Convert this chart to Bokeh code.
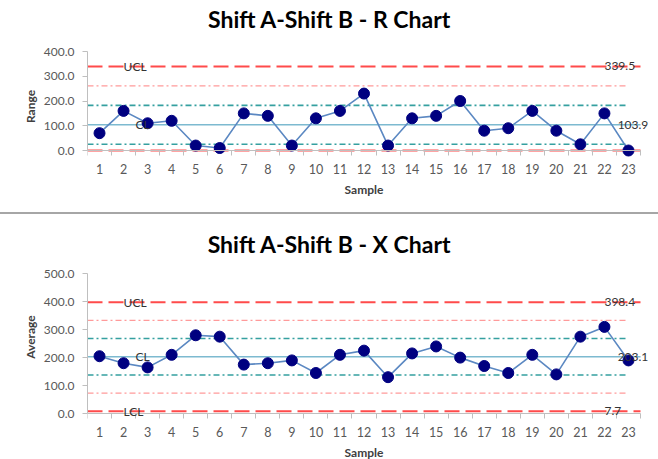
from bokeh.plotting import figure
from bokeh.models import (Range1d, LinearAxis, FixedTicker, NumeralTickFormatter,
                          Label, Div)
from bokeh.layouts import column
from bokeh.embed import file_html
from bokeh.resources import INLINE

# ---------------- data ----------------
samples = list(range(1, 24))

r_values = [70, 160, 110, 120, 20, 10, 150, 140, 20, 130, 160, 230,
            20, 130, 140, 200, 80, 90, 160, 80, 25, 150, 0]
r_ucl = 339.5
r_cl = 103.9
r_lcl = 0.0
r_sigma1 = [25.4, 182.4]
r_sigma2 = [261.0]
r_yticks = [0, 100, 200, 300, 400]

x_values = [205, 180, 165, 210, 280, 275, 175, 180, 190, 145, 210, 225,
            130, 215, 240, 200, 170, 145, 210, 140, 275, 310, 190]
x_ucl = 398.4
x_cl = 203.1
x_lcl = 7.7
x_sigma1 = [138.0, 268.2]
x_sigma2 = [72.9, 333.3]
x_yticks = [0, 100, 200, 300, 400, 500]

FONT = "Lato"
RED = "#FF4B4B"
TEAL = "#35A0A0"
PINK = "#FF9A9A"
CLBLUE = "#7DBAD0"
LINEBLUE = "#5B88C2"
NAVY = "#000080"
AXIS = "#BFBFBF"
TXT = "#595959"

WIDTH = 658
LEFT = 87          # pixel position of the y axis
PLOT_W = 553       # pixel width of the category area
X_PX = PLOT_W / len(samples)


def make_chart(title, ylabel, values, ucl, cl, lcl, sig1, sig2, yticks,
               px_per_unit, height, top_px, title_px, show_lcl_label):
    ymax_axis = yticks[-1]
    zero_px = top_px + ymax_axis * px_per_unit
    ymax = ymax_axis + top_px / px_per_unit
    ymin = -(height - zero_px) / px_per_unit
    xs = samples[0] - 0.5
    xe = samples[-1] + 0.5
    x_end = xs + (WIDTH - LEFT) / X_PX
    p = figure(width=WIDTH, height=height,
               x_range=Range1d(xs, x_end), y_range=Range1d(ymin, ymax),
               x_axis_location=None, output_backend="svg",
               toolbar_location=None, min_border_left=LEFT,
               min_border_right=0, min_border_top=0, min_border_bottom=0)
    p.outline_line_color = None
    p.grid.visible = False

    # y axis
    ya = p.yaxis[0]
    ya.ticker = FixedTicker(ticks=yticks)
    ya.bounds = (yticks[0], yticks[-1])
    ya.formatter = NumeralTickFormatter(format="0.0")
    ya.axis_label = ylabel
    ya.axis_label_text_font = FONT
    ya.axis_label_text_font_style = "bold"
    ya.axis_label_text_font_size = "12px"
    ya.axis_label_text_color = "#404040"
    ya.axis_label_standoff = 3
    ya.major_label_text_font = FONT
    ya.major_label_text_font_size = "12px"
    ya.major_label_text_color = TXT
    ya.major_label_standoff = 8
    ya.axis_line_color = AXIS
    ya.major_tick_line_color = AXIS
    ya.major_tick_out = 5
    ya.major_tick_in = 0
    ya.minor_tick_line_color = None

    # category axis fixed at zero
    minor = [s - 0.5 for s in samples] + [xe]
    xa = LinearAxis(fixed_location=0, bounds=(xs, xe),
                    ticker=FixedTicker(ticks=samples, minor_ticks=minor))
    xa.axis_label = "Sample"
    xa.axis_label_text_font = FONT
    xa.axis_label_text_font_style = "bold"
    xa.axis_label_text_font_size = "12px"
    xa.axis_label_text_color = "#404040"
    xa.axis_label_standoff = 5
    xa.major_label_text_font = FONT
    xa.major_label_text_font_size = "12.5px"
    xa.major_label_text_color = TXT
    xa.major_label_standoff = 8
    xa.axis_line_color = AXIS
    xa.major_tick_out = 0
    xa.major_tick_in = 0
    xa.minor_tick_out = 5
    xa.minor_tick_in = 0
    xa.minor_tick_line_color = AXIS
    p.add_layout(xa, "below")

    x1 = samples[-1]
    for v in sig2:
        p.line([xs, x1], [v, v], line_color=PINK, line_width=1.3,
               line_dash="6 3 2 3")
    for v in sig1:
        p.line([xs, x1], [v, v], line_color=TEAL, line_width=1.6,
               line_dash="6 3 2 3")
    p.line([xs, xe], [cl, cl], line_color=CLBLUE, line_width=1.6)
    p.line([xs, xe], [ucl, ucl], line_color=RED, line_width=2,
           line_dash="15 6")
    p.line([xs, xe], [lcl, lcl], line_color=RED, line_width=2,
           line_dash="15 6")

    p.line(samples, values, line_color=LINEBLUE, line_width=1.6)
    p.scatter(samples, values, size=11, fill_color=NAVY, line_color=NAVY)

    lab = dict(text_font=FONT, text_font_size="12px", text_color="#333333",
               text_baseline="middle", text_align="left")
    p.add_layout(Label(x=2.0, y=ucl, text="UCL", **lab))
    p.add_layout(Label(x=2.5, y=cl, text="CL", **lab))
    if show_lcl_label:
        p.add_layout(Label(x=2.0, y=lcl, text="LCL", **lab))
        p.add_layout(Label(x=22.0, y=lcl, text=f"{lcl:.1f}", **lab))
    p.add_layout(Label(x=22.0, y=ucl, text=f"{ucl:.1f}", **lab))
    p.add_layout(Label(x=22.55, y=cl, text=f"{cl:.1f}", **lab))

    # chart title, centred on the chart width
    xmid = xs + (WIDTH / 2 - LEFT) / X_PX
    p.add_layout(Label(x=xmid, y=ymax - title_px / px_per_unit, text=title,
                       text_font=FONT, text_font_style="bold",
                       text_font_size="23px", text_color="#000000",
                       text_align="center", text_baseline="middle"))
    return p


p1 = make_chart("Shift A-Shift B - R Chart", "Range", r_values, r_ucl, r_cl,
                r_lcl, r_sigma1, r_sigma2, r_yticks,
                99 / 400, 212, 51, 18, False)
sep = Div(text="", width=WIDTH, height=2, margin=0,
          styles={"background-color": "#A6A6A6", "overflow": "hidden"})
p2 = make_chart("Shift A-Shift B - X Chart", "Average", x_values, x_ucl, x_cl,
                x_lcl, x_sigma1, x_sigma2, x_yticks,
                139.7 / 500, 245, 59.3, 29, True)

layout = column(p1, sep, p2, spacing=0)
open("out.html", "w").write(file_html(layout, INLINE))
